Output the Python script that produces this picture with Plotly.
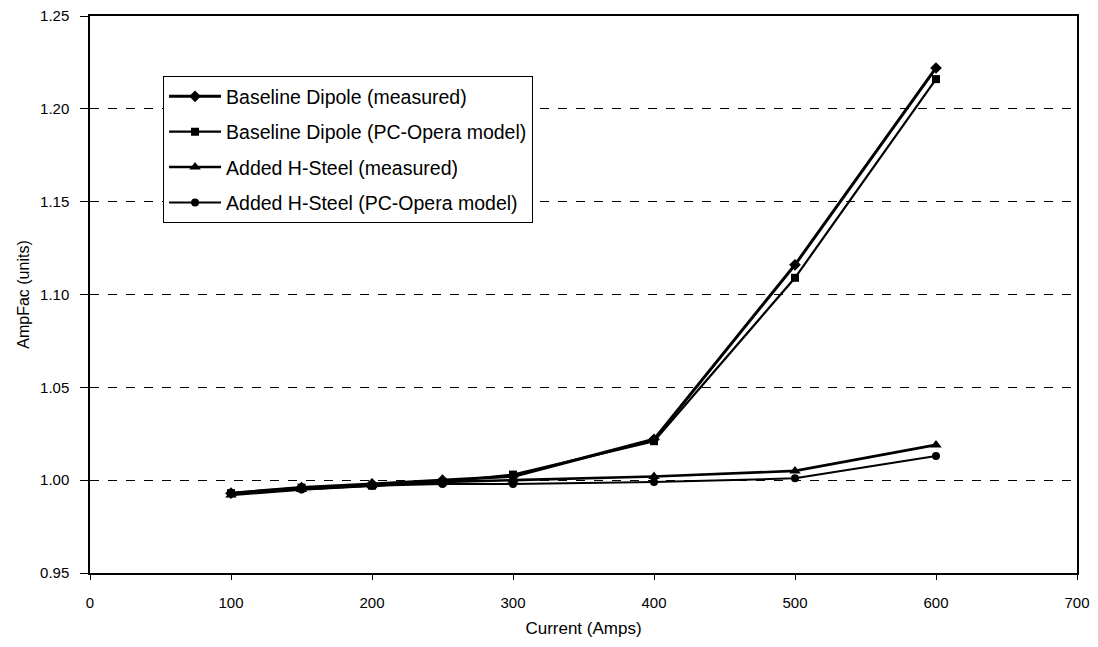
import plotly.graph_objects as go

current = [100, 150, 200, 250, 300, 400, 500, 600]
baseline_measured = [0.993, 0.996, 0.998, 1.000, 1.002, 1.022, 1.116, 1.222]
baseline_model = [0.993, 0.996, 0.997, 0.999, 1.003, 1.021, 1.109, 1.216]
hsteel_measured = [0.992, 0.995, 0.997, 0.999, 1.000, 1.002, 1.005, 1.019]
hsteel_model = [0.993, 0.995, 0.997, 0.998, 0.998, 0.999, 1.001, 1.013]

names = ["Baseline Dipole (measured)", "Baseline Dipole (PC-Opera model)",
         "Added H-Steel (measured)", "Added H-Steel (PC-Opera model)"]
series = [baseline_measured, baseline_model, hsteel_measured, hsteel_model]
symbols = ["diamond", "square", "triangle-up", "circle"]
widths = [3.0, 2.2, 2.6, 2.0]
sizes = [9, 8, 10, 8]

xticks = [0, 100, 200, 300, 400, 500, 600, 700]
yticks = [0.95, 1.00, 1.05, 1.10, 1.15, 1.20, 1.25]

fig = go.Figure()
for i, (n, s) in enumerate(zip(names, series)):
    fig.add_trace(go.Scatter(
        x=current, y=s, name=n, mode="lines+markers",
        line=dict(color="black", width=widths[i]),
        marker=dict(symbol=symbols[i], size=sizes[i], color="black"),
        legendgroup=f"g{i}",
    ))

font = "Liberation Sans, Arial, sans-serif"
fig.update_layout(
    width=1098, height=647,
    margin=dict(l=90, r=21, t=16, b=74, autoexpand=False),
    paper_bgcolor="white", plot_bgcolor="white",
    font=dict(family=font, size=16, color="black"),
    showlegend=True,
    legend=dict(
        x=0.074, y=0.892, xanchor="left", yanchor="top",
        bgcolor="white", bordercolor="black", borderwidth=1,
        font=dict(size=19.5, family=font),
        tracegroupgap=7, itemwidth=52,
    ),
    xaxis=dict(
        range=[0, 700], tickvals=xticks, ticktext=[str(v) for v in xticks],
        showgrid=False, zeroline=False,
        showline=True, linecolor="black", linewidth=1.5, mirror=True,
        ticks="outside", ticklen=5, tickcolor="black",
        ticklabelstandoff=10,
        title=dict(text="Current (Amps)", font=dict(size=17), standoff=12),
        tickfont=dict(size=15),
    ),
    yaxis=dict(
        range=[0.95, 1.25], tickvals=yticks, ticktext=[f"{v:.2f}" for v in yticks],
        showgrid=True, gridcolor="black", griddash="dash", gridwidth=1,
        zeroline=False,
        showline=True, linecolor="black", linewidth=1.5, mirror=True,
        ticks="outside", ticklen=8, tickcolor="black",
        ticklabelstandoff=8,
        title=dict(text="AmpFac (units)", font=dict(size=16), standoff=6),
        tickfont=dict(size=15),
    ),
)

fig.write_html("out.html", config={"displayModeBar": False},
               post_script="document.body.style.margin='0';document.body.style.padding='0';")
